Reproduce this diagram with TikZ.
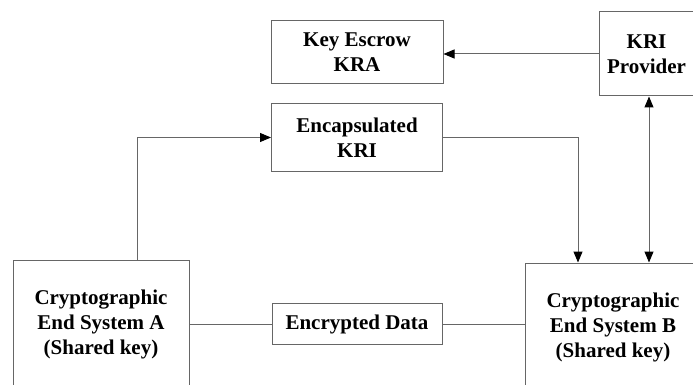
\documentclass[tikz,border=0pt]{standalone}
\usepackage{fontspec}
\setmainfont{Liberation Serif}[BoldFont={Liberation Serif Bold}]
\usepackage{tikz}
\usetikzlibrary{positioning}
\usetikzlibrary{arrows.meta}

\begin{document}
\begin{tikzpicture}[x=1pt,y=-1pt,
  box/.style={draw=black!60,line width=1pt,align=center,inner sep=2pt,
    font=\bfseries\fontsize{21}{25}\selectfont},
  bigbox/.style={box,minimum width=176pt,minimum height=128pt},
  link/.style={draw=black!60,line width=1pt},
  arr/.style={link,-{Triangle[length=11pt,width=9pt,color=black]}},
  dblarr/.style={link,{Triangle[length=11pt,width=9pt,color=black]}-{Triangle[length=11pt,width=9pt,color=black]}}]
\useasboundingbox (0,0) rectangle (693,385);
% top row
\node[box,minimum width=172pt,minimum height=63pt] (kra) at (357,52.5) {Key Escrow\\KRA};
\node[box,minimum width=95pt,minimum height=84pt] (prov) at (646.5,54) {KRI\\Provider};
\node[box,minimum width=171pt,minimum height=67pt,below=19pt of kra] (enc) {Encapsulated\\KRI};
% end systems
\node[bigbox] (sysa) at (101,324) {Cryptographic\\End System A\\(Shared key)};
\node[box,minimum width=170pt,minimum height=41pt,right=82pt of sysa] (data) {Encrypted Data};
\node[bigbox] (sysb) at (613,327) {Cryptographic\\End System B\\(Shared key)};
\coordinate (aout) at ([xshift=36pt]sysa.north);
\coordinate (bin) at ([xshift=-35pt]sysb.north);
\coordinate (bkri) at ([xshift=36pt]sysb.north);
% connectors
\draw[arr] (prov.west) -- (prov.west -| kra.east);
\draw[arr] (aout) |- (enc.west);
\draw[arr] (enc.east) -| (bin);
\draw[dblarr] (prov.south -| bkri) -- (bkri);
\draw[link] (sysa.east |- data.west) -- (data.west);
\draw[link] (data.east) -- (data.east -| sysb.west);
\end{tikzpicture}
\end{document}
